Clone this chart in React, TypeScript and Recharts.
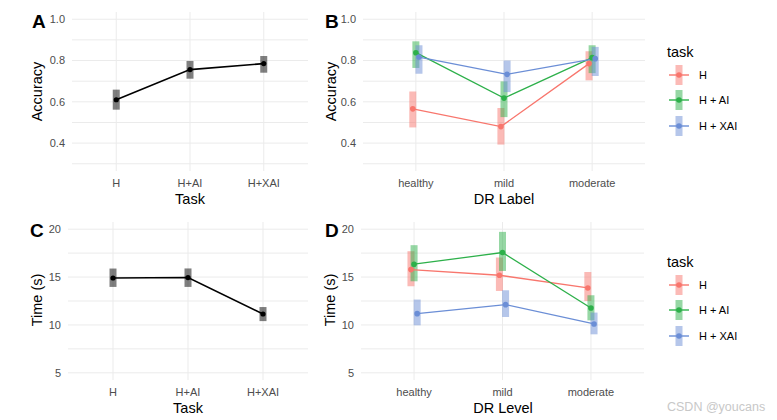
import { LineChart, Line, XAxis, YAxis, ReferenceLine, ErrorBar } from 'recharts';

const FONT = '"Liberation Sans", Arial, Helvetica, sans-serif';

// categories
const taskCats = ['H', 'H+AI', 'H+XAI'];
const drCats = ['healthy', 'mild', 'moderate'];
const groups = ['H', 'H + AI', 'H + XAI'];
const groupColors = ['#F8766D', '#2DB04A', '#6B8ED6'];
const groupBands = ['rgba(248,118,109,0.5)', 'rgba(45,176,74,0.5)', 'rgba(107,142,214,0.5)'];

// A: accuracy by task
const accTask = [0.61, 0.756, 0.785];
const accTaskLow = [0.562, 0.712, 0.741];
const accTaskHigh = [0.659, 0.798, 0.822];

// C: time by task
const timeTask = [14.9, 14.95, 11.14];
const timeTaskLow = [13.97, 13.97, 10.4];
const timeTaskHigh = [15.89, 15.9, 11.87];

// B: accuracy by DR label, per group
const accDR = [
  [0.566, 0.48, 0.785],
  [0.838, 0.618, 0.814],
  [0.817, 0.733, 0.809],
];
const accDRLow = [
  [0.476, 0.393, 0.704],
  [0.764, 0.526, 0.739],
  [0.736, 0.647, 0.725],
];
const accDRHigh = [
  [0.65, 0.57, 0.845],
  [0.893, 0.699, 0.874],
  [0.874, 0.8, 0.866],
];

// D: time by DR level, per group
const timeDR = [
  [15.78, 15.19, 13.86],
  [16.34, 17.56, 11.77],
  [11.18, 12.12, 10.1],
];
const timeDRLow = [
  [14.04, 13.55, 12.5],
  [14.56, 15.64, 10.48],
  [9.96, 10.83, 9.02],
];
const timeDRHigh = [
  [17.7, 17.04, 15.53],
  [18.33, 19.72, 13.1],
  [12.65, 13.62, 11.29],
];

const accTicks = [0.3, 0.4, 0.5, 0.6, 0.7, 0.8, 0.9, 1.0];
const accLabels = [0.4, 0.6, 0.8, 1.0];
const timeTicks = [5, 7.5, 10, 12.5, 15, 17.5, 20];
const timeLabels = [5, 10, 15, 20];
const catPos = [1, 2, 3];

const dodge = [-0.035, 0, 0.035];

type Pt = { x: number; y: number; err: [number, number] };
type Series = { key: string; color: string; band: string; points: Pt[] };

function build(values: number[], low: number[], high: number[], offset: number): Pt[] {
  return values.map((v, i) => ({ x: i + 1 + offset, y: v, err: [v - low[i], high[i] - v] }));
}

interface PanelProps {
  left: number;
  top: number;
  width: number;
  yAxisWidth: number;
  right: number;
  xAxisHeight: number;
  domain: [number, number];
  ticks: number[];
  labels: number[];
  digits: number;
  cats: string[];
  series: Series[];
  lineWidth: number;
  r: number;
}

function Panel(p: PanelProps) {
  return (
    <div style={{ position: 'absolute', left: p.left, top: p.top }}>
      <LineChart width={p.width} height={210} margin={{ top: 12, right: p.right, bottom: 0, left: 0 }}>
        <XAxis
          dataKey="x"
          type="number"
          domain={[0.4, 3.6]}
          ticks={catPos}
          interval={0}
          allowDataOverflow
          height={p.xAxisHeight}
          axisLine={false}
          tickLine={false}
          tickSize={6}
          tickMargin={2}
          tick={{ fill: '#4D4D4D', fontSize: 11, fontFamily: FONT }}
          tickFormatter={(v: number) => p.cats[Math.round(v) - 1] ?? ''}
        />
        <YAxis
          type="number"
          domain={p.domain}
          ticks={p.ticks}
          interval={0}
          allowDataOverflow
          width={p.yAxisWidth}
          axisLine={false}
          tickLine={false}
          tickSize={5}
          tickMargin={2}
          tick={{ fill: '#4D4D4D', fontSize: 11, fontFamily: FONT }}
          tickFormatter={(v: number) =>
            p.labels.some((l) => Math.abs(l - v) < 1e-6) ? v.toFixed(p.digits) : ''
          }
        />
        {p.ticks.map((t) => (
          <ReferenceLine key={'h' + t} y={t} stroke="#EBEBEB" strokeWidth={1} />
        ))}
        {catPos.map((c) => (
          <ReferenceLine key={'v' + c} x={c} stroke="#EBEBEB" strokeWidth={1} />
        ))}
        {p.series.map((s) => (
          <Line
            key={'bar-' + s.key}
            data={s.points}
            dataKey="y"
            stroke="none"
            dot={false}
            activeDot={false}
            isAnimationActive={false}
          >
            <ErrorBar dataKey="err" width={0} strokeWidth={7} stroke={s.band} direction="y" isAnimationActive={false} />
          </Line>
        ))}
        {p.series.map((s) => (
          <Line
            key={'line-' + s.key}
            data={s.points}
            dataKey="y"
            stroke={s.color}
            strokeWidth={p.lineWidth}
            dot={{ r: p.r, fill: s.color, stroke: s.color, strokeWidth: 0 }}
            activeDot={false}
            isAnimationActive={false}
          />
        ))}
      </LineChart>
    </div>
  );
}

function LegendBox({ top }: { top: number }) {
  return (
    <div style={{ position: 'absolute', left: 667, top, fontFamily: FONT }}>
      <div style={{ fontSize: 14.5, color: '#000', height: 20, lineHeight: '20px' }}>task</div>
      {groups.map((g, i) => (
        <div key={g} style={{ display: 'flex', alignItems: 'center', height: 25.5 }}>
          <svg width={24} height={24} style={{ display: 'block' }}>
            <rect x={8.5} y={2} width={7} height={20} fill={groupBands[i]} />
            <line x1={2} x2={22} y1={12} y2={12} stroke={groupColors[i]} strokeWidth={1.4} />
            <circle cx={12} cy={12} r={2.8} fill={groupColors[i]} />
          </svg>
          <span style={{ fontSize: 11, color: '#000', marginLeft: 8 }}>{g}</span>
        </div>
      ))}
    </div>
  );
}

export default function App() {
  const single = (v: number[], lo: number[], hi: number[]): Series[] => [
    { key: 'all', color: '#000000', band: 'rgba(0,0,0,0.5)', points: build(v, lo, hi, 0) },
  ];
  const grouped = (v: number[][], lo: number[][], hi: number[][]): Series[] =>
    groups.map((g, i) => ({
      key: g,
      color: groupColors[i],
      band: groupBands[i],
      points: build(v[i], lo[i], hi[i], dodge[i]),
    }));

  const titleStyle = { fontFamily: FONT, fontSize: 14.5, fill: '#000' };
  const letterStyle = { fontFamily: FONT, fontSize: 19, fontWeight: 700, fill: '#000' };

  return (
    <div style={{ position: 'absolute', left: 0, top: 0, width: 777, height: 420, background: '#fff', overflow: 'hidden' }}>
      <Panel
        left={0} top={0} width={320} yAxisWidth={72} right={12} xAxisHeight={39}
        domain={[0.265, 1.035]} ticks={accTicks} labels={accLabels} digits={1}
        cats={taskCats} series={single(accTask, accTaskLow, accTaskHigh)} lineWidth={1.6} r={2.6}
      />
      <Panel
        left={320} top={0} width={335} yAxisWidth={43} right={10} xAxisHeight={39}
        domain={[0.265, 1.035]} ticks={accTicks} labels={accLabels} digits={1}
        cats={drCats} series={grouped(accDR, accDRLow, accDRHigh)} lineWidth={1.3} r={2.8}
      />
      <Panel
        left={0} top={210} width={320} yAxisWidth={68} right={12} xAxisHeight={40}
        domain={[4.25, 20.75]} ticks={timeTicks} labels={timeLabels} digits={0}
        cats={taskCats} series={single(timeTask, timeTaskLow, timeTaskHigh)} lineWidth={1.6} r={2.6}
      />
      <Panel
        left={320} top={210} width={335} yAxisWidth={41} right={11} xAxisHeight={40}
        domain={[4.25, 20.75]} ticks={timeTicks} labels={timeLabels} digits={0}
        cats={drCats} series={grouped(timeDR, timeDRLow, timeDRHigh)} lineWidth={1.3} r={2.8}
      />
      <svg width={777} height={420} style={{ position: 'absolute', left: 0, top: 0, pointerEvents: 'none' }}>
        <text x={32} y={28} style={letterStyle}>A</text>
        <text x={325} y={28} style={letterStyle}>B</text>
        <text x={30} y={237} style={letterStyle}>C</text>
        <text x={325} y={237} style={letterStyle}>D</text>
        <text transform="translate(42,91.5) rotate(-90)" textAnchor="middle" style={titleStyle}>Accuracy</text>
        <text transform="translate(336,91.5) rotate(-90)" textAnchor="middle" style={titleStyle}>Accuracy</text>
        <text transform="translate(42,300) rotate(-90)" textAnchor="middle" style={titleStyle}>Time (s)</text>
        <text transform="translate(335,300) rotate(-90)" textAnchor="middle" style={titleStyle}>Time (s)</text>
        <text x={190} y={204} textAnchor="middle" style={titleStyle}>Task</text>
        <text x={504} y={204} textAnchor="middle" style={titleStyle}>DR Label</text>
        <text x={188} y={413} textAnchor="middle" style={titleStyle}>Task</text>
        <text x={503} y={413} textAnchor="middle" style={titleStyle}>DR Level</text>
        <text x={667} y={411} style={{ fontFamily: FONT, fontSize: 12.5, fill: '#C8C8C8' }}>CSDN @youcans</text>
      </svg>
      <LegendBox top={42} />
      <LegendBox top={252} />
    </div>
  );
}
